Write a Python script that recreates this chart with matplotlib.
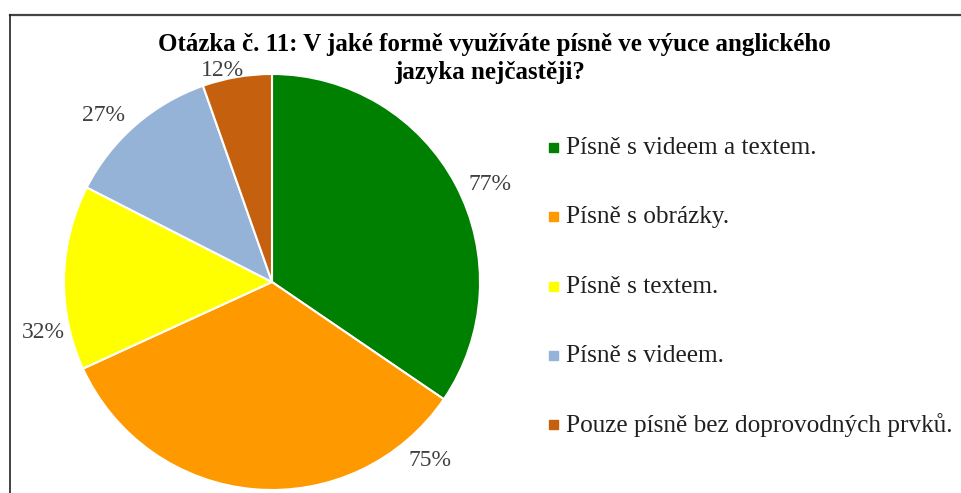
import matplotlib.pyplot as plt
from matplotlib.lines import Line2D

# survey answers (counts shown as percent of respondents)
categories = ["Písně s videem a textem.", "Písně s obrázky.", "Písně s textem.",
              "Písně s videem.", "Pouze písně bez doprovodných prvků."]
values = [77, 75, 32, 27, 12]
labels = ["77%", "75%", "32%", "27%", "12%"]
colors = ["#008000", "#FF9900", "#FFFF00", "#95B3D7", "#C5600E"]

# label positions in pie radius units (Excel best-fit placement)
label_pos = [(1.05, 0.47), (0.76, -0.86), (-1.10, -0.245), (-0.81, 0.80), (-0.24, 1.015)]

W, H = 961, 493
fig = plt.figure(figsize=(W / 100, H / 100), dpi=100)
plt.rcParams['font.family'] = ['Liberation Serif', 'DejaVu Serif']

cx, cy, r = 272, 282, 208
ax = fig.add_axes([(cx - r) / W, (H - cy - r) / H, 2 * r / W, 2 * r / H])
wedges, _ = ax.pie(values, colors=colors, startangle=90, counterclock=False,
                   radius=1, wedgeprops=dict(edgecolor='white', linewidth=1.5))
ax.set_xlim(-1, 1)
ax.set_ylim(-1, 1)
for w in wedges:
    w.set_clip_on(False)

for lab, (lx, ly) in zip(labels, label_pos):
    ax.text(lx, ly, lab, ha='center', va='center', fontsize=17, color='#404040',
            clip_on=False)

fig.text(494 / W, 1 - 45 / H, "Otázka č. 11: V jaké formě využíváte písně ve výuce anglického",
         ha='center', va='center', fontsize=18, fontweight='bold')
fig.text(490 / W, 1 - 73 / H, "jazyka nejčastěji?",
         ha='center', va='center', fontsize=18, fontweight='bold')

# legend
leg_y = [148, 217, 287, 356, 425]
for cat, col, yy in zip(categories, colors, leg_y):
    fig.patches.append(plt.Rectangle((549 / W, 1 - (yy + 4) / H), 9 / W, 9 / H,
                                     transform=fig.transFigure, color=col))
    fig.text(566 / W, 1 - yy / H, cat, ha='left', va='center', fontsize=18.2, color='#202020')

# frame lines
fig.add_artist(Line2D([10 / W, 1], [1 - 15 / H, 1 - 15 / H], color='#444444', lw=1.6,
                      transform=fig.transFigure))
fig.add_artist(Line2D([10 / W, 10 / W], [0, 1 - 15 / H], color='#222222', lw=1.2,
                      transform=fig.transFigure))

fig.savefig("out.png", dpi=100)
